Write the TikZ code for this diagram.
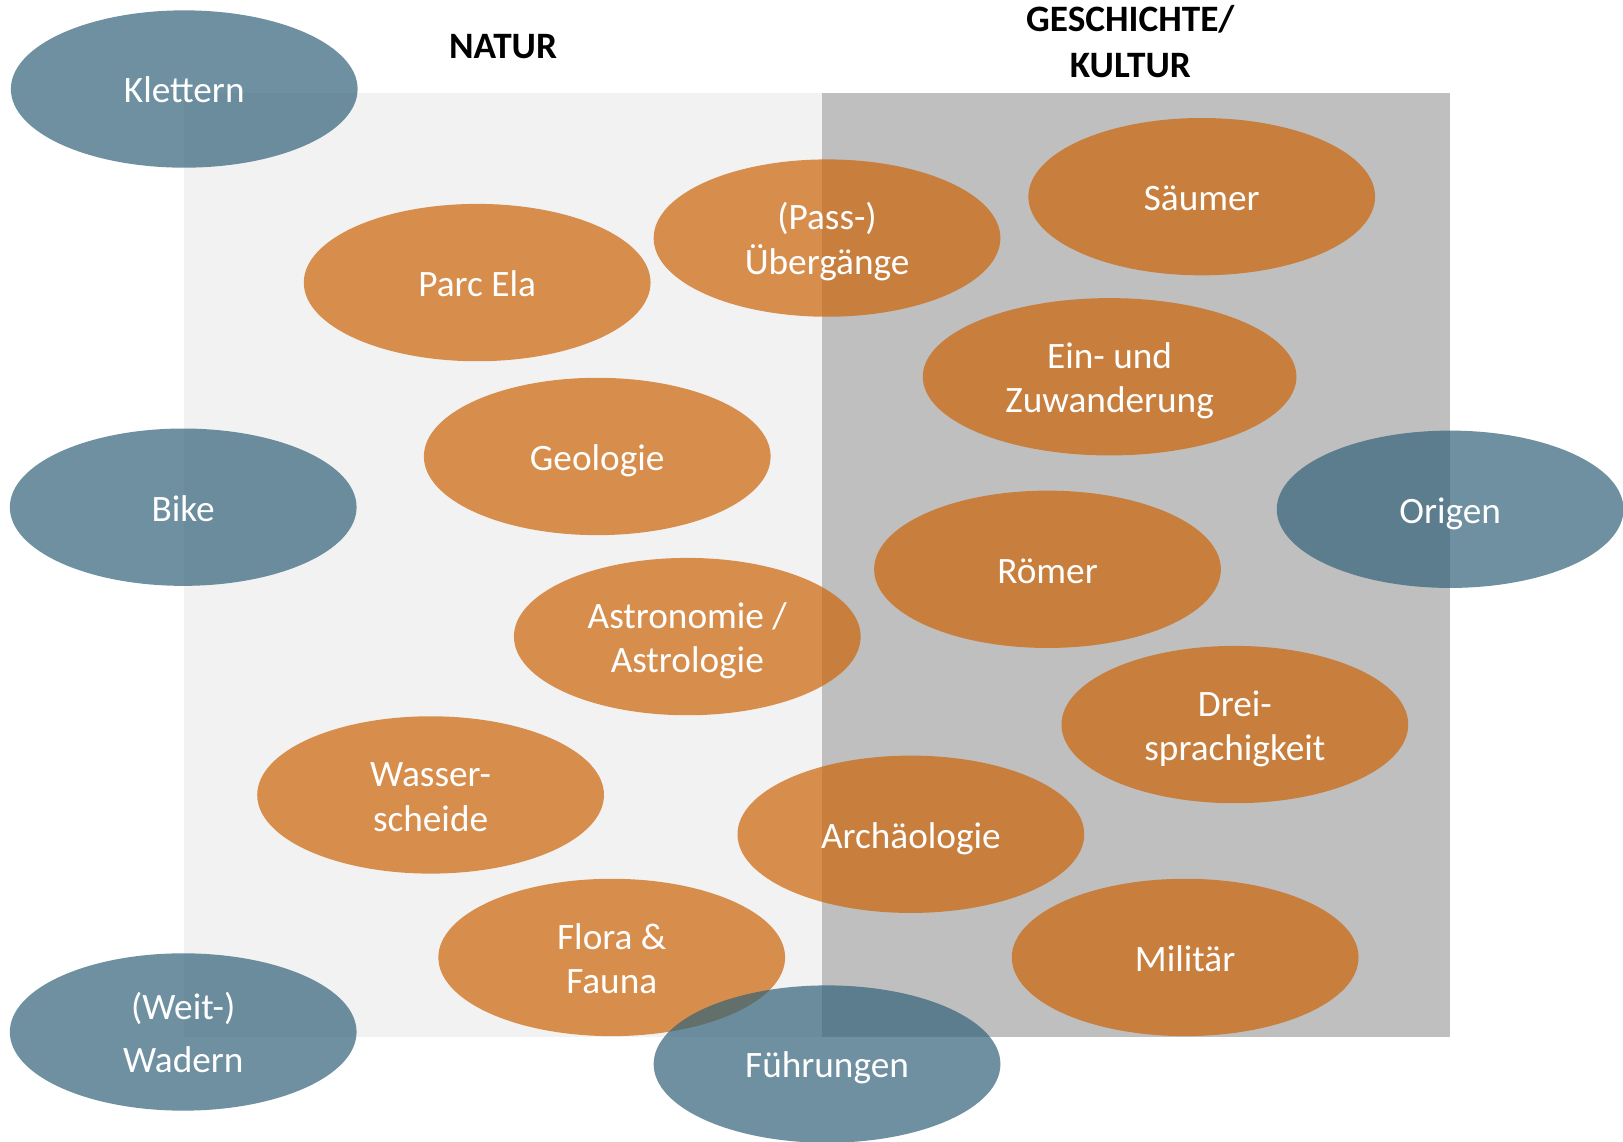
\documentclass[tikz,border=0pt]{standalone}
\usepackage{fontspec}
\setmainfont{Carlito}
\usetikzlibrary{shapes.geometric}
\definecolor{lightbg}{RGB}{242,242,242}
\definecolor{darkbg}{RGB}{191,191,191}
\definecolor{blueE}{RGB}{49,98,121}
\definecolor{orangeE}{RGB}{204,100,8}
\newcommand{\lnfix}{\vphantom{Äg}\raisebox{4pt}{\vphantom{Ä}}}
\tikzset{
  bubble/.style={ellipse, minimum width=335pt, minimum height=152pt, inner sep=0pt,
    fill opacity=0.7, text opacity=1, text=white, align=center,
    font=\fontsize{36}{43}\selectfont},
  bluebub/.style={bubble, fill=blueE},
  orangebub/.style={bubble, fill=orangeE},
  header/.style={font=\fontsize{36}{44}\selectfont\bfseries, align=center, text=black}
}
\begin{document}
\begin{tikzpicture}[x=1pt, y=-1pt]
\useasboundingbox (0,0) rectangle (1568,1103);
\fill[white] (0,0) rectangle (1568,1103);
% background panels
\fill[lightbg] (178,90) rectangle (794,1002);
\fill[darkbg] (794,90) rectangle (1401,1002);
% headers
\node[header] (natur) at (486,45) {NATUR};
\node[header] (kultur) at (1092,40) {GESCHICHTE/\\KULTUR};
% orange topics
\node[orangebub] (parc) at (461,273) {\lnfix Parc Ela};
\node[orangebub] (pass) at (799,230) {\lnfix(Pass-)\\\lnfix Übergänge};
\node[orangebub] (saeumer) at (1161,190) {\lnfix Säumer};
\node[orangebub, minimum width=361pt] (ein) at (1072,364) {\lnfix Ein- und\\\lnfix Zuwanderung};
\node[orangebub] (geo) at (577,441) {\lnfix Geologie};
\node[orangebub] (roemer) at (1012,550) {\lnfix Römer};
\node[orangebub] (astro) at (664,615) {\lnfix Astronomie /\\\lnfix Astrologie};
\node[orangebub] (drei) at (1193,700) {\lnfix Drei-\\\lnfix sprachigkeit};
\node[orangebub] (wasser) at (416,768) {\lnfix Wasser-\\\lnfix scheide};
\node[orangebub] (arch) at (880,806) {\lnfix Archäologie};
\node[orangebub] (flora) at (591,925) {\lnfix Flora \&\\\lnfix Fauna};
\node[orangebub] (militaer) at (1145,925) {\lnfix Militär};
% blue activities
\node[bluebub] (klettern) at (178,86) {\lnfix Klettern};
\node[bluebub] (bike) at (177,490) {\lnfix Bike};
\node[bluebub, font=\fontsize{36}{51}\selectfont] (wandern) at (177,997) {\lnfix(Weit-)\\\lnfix Wadern};
\node[bluebub] (fuehrungen) at (799,1028) {\lnfix Führungen};
\node[bluebub] (origen) at (1401,492) {\lnfix Origen};
\end{tikzpicture}
\end{document}
